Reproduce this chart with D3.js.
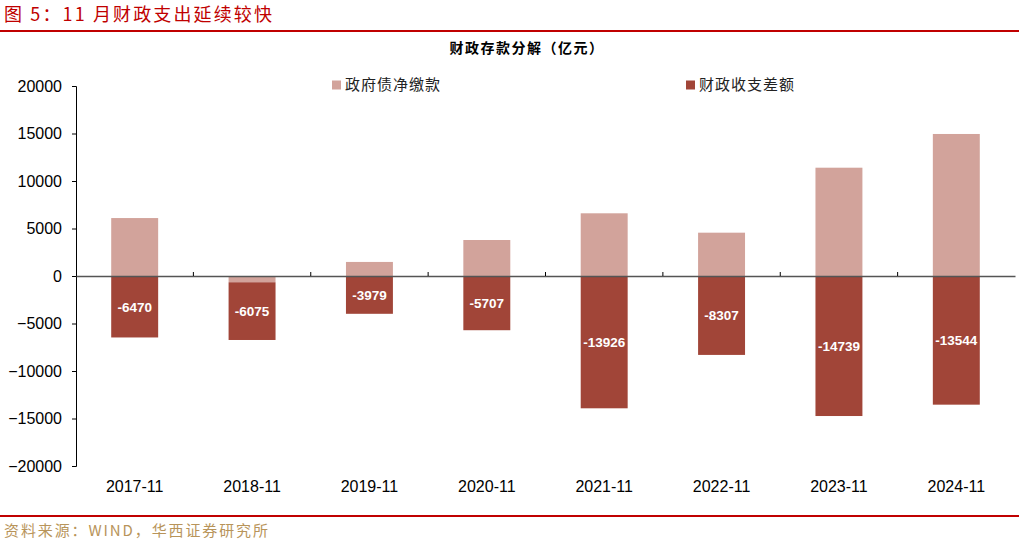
<!DOCTYPE html>
<html><head><meta charset="utf-8">
<script src="https://cdn.jsdelivr.net/npm/d3@7"></script>
<style>body{margin:0;background:#fff}svg{display:block}</style>
</head><body><svg id="c" width="1019" height="547"></svg>
<script>
const categories = ["2017-11","2018-11","2019-11","2020-11","2021-11","2022-11","2023-11","2024-11"];
const debtNet = [6100, -660, 1480, 3790, 6600, 4560, 11400, 14950];
const fiscalGap = [-6470, -6075, -3979, -5707, -13926, -8307, -14739, -13544];
const yTicks = [20000,15000,10000,5000,0,-5000,-10000,-15000,-20000];
const seriesNames = ["政府债净缴款","财政收支差额"];
const colors = ["#D2A39B","#A14538"];

const svg = d3.select("#c");
const cjk = "'Noto Sans CJK SC','Noto Sans',sans-serif";

// header
svg.append("text").attr("x",4).attr("y",21).attr("fill","#C00000")
  .attr("font-family",cjk).attr("font-size",18).attr("textLength",268).attr("lengthAdjust","spacing")
  .text("图 5：11 月财政支出延续较快");
svg.append("rect").attr("x",0).attr("y",30).attr("width",1019).attr("height",2).attr("fill","#C00000");
svg.append("rect").attr("x",0).attr("y",515).attr("width",1019).attr("height",2).attr("fill","#C00000");
svg.append("text").attr("x",4).attr("y",536).attr("fill","#B8945A")
  .attr("font-family",cjk).attr("font-size",15).attr("textLength",264).attr("lengthAdjust","spacing")
  .text("资料来源：WIND，华西证券研究所");

svg.append("text").attr("x",527).attr("y",53).attr("text-anchor","middle")
  .attr("font-family",cjk).attr("font-weight","bold").attr("font-size",14).attr("letter-spacing",1.5).attr("fill","#000")
  .text("财政存款分解（亿元）");

const x = d3.scaleBand().domain(categories).range([76,1015]).paddingInner(0.6).paddingOuter(0.3);
const y = d3.scaleLinear().domain([-20000,20000]).range([466,86]);

// stacked with diverging offset
const data = categories.map((c,i)=>({cat:c, a:debtNet[i], b:fiscalGap[i]}));
const stack = d3.stack().keys(["a","b"]).offset(d3.stackOffsetDiverging);
const layers = stack(data);

const g = svg.append("g");
layers.forEach((layer,li)=>{
  g.selectAll(null).data(layer).enter().append("rect")
    .attr("x",d=>x(d.data.cat))
    .attr("width",x.bandwidth())
    .attr("y",d=>y(Math.max(d[0],d[1])))
    .attr("height",d=>Math.abs(y(d[0])-y(d[1])))
    .attr("fill",colors[li]);
});
// labels for fiscal gap
g.selectAll(null).data(layers[1]).enter().append("text")
  .attr("x",d=>x(d.data.cat)+x.bandwidth()/2)
  .attr("y",d=>(y(d[0])+y(d[1]))/2+5)
  .attr("text-anchor","middle").attr("fill","#fff")
  .attr("font-family","Arial,'Liberation Sans',sans-serif").attr("font-weight","bold").attr("font-size",13.5)
  .text(d=>d.data.b);

// y axis
const ya = svg.append("g").attr("transform","translate(76,0)")
  .call(d3.axisLeft(y).tickValues(yTicks).tickSize(4).tickPadding(10).tickFormat(d3.format("d")));
ya.select(".domain").attr("stroke","#000");
ya.selectAll(".tick line").attr("stroke","#000");
ya.selectAll("text").attr("font-family","Arial,'Liberation Sans',sans-serif").attr("font-size",16).attr("fill","#000");

// x axis at zero
const xa = svg.append("g").attr("transform",`translate(0,${y(0)})`)
  .call(d3.axisBottom(x).tickSize(0).tickFormat(""));
xa.select(".domain").attr("stroke","#555").attr("stroke-width",1.5);
const step = x.step();
const bounds = categories.slice(1).map(c=>x(c)-(step-x.bandwidth())/2);
svg.append("g").selectAll("line").data(bounds).enter().append("line")
  .attr("x1",d=>d).attr("x2",d=>d).attr("y1",y(0)-4).attr("y2",y(0)).attr("stroke","#000");
// x labels at bottom
svg.append("g").selectAll("text").data(categories).enter().append("text")
  .attr("x",d=>x(d)+x.bandwidth()/2).attr("y",492).attr("text-anchor","middle")
  .attr("font-family","Arial,'Liberation Sans',sans-serif").attr("font-size",16).attr("fill","#000")
  .text(d=>d);

// legend
const leg = [{x:332,n:seriesNames[0],c:colors[0]},{x:686,n:seriesNames[1],c:colors[1]}];
leg.forEach(l=>{
  svg.append("rect").attr("x",l.x).attr("y",80.5).attr("width",9).attr("height",9).attr("fill",l.c);
  svg.append("text").attr("x",l.x+13).attr("y",90).attr("font-family",cjk).attr("font-size",15)
    .attr("letter-spacing",1).attr("fill","#222").text(l.n);
});
</script></body></html>
